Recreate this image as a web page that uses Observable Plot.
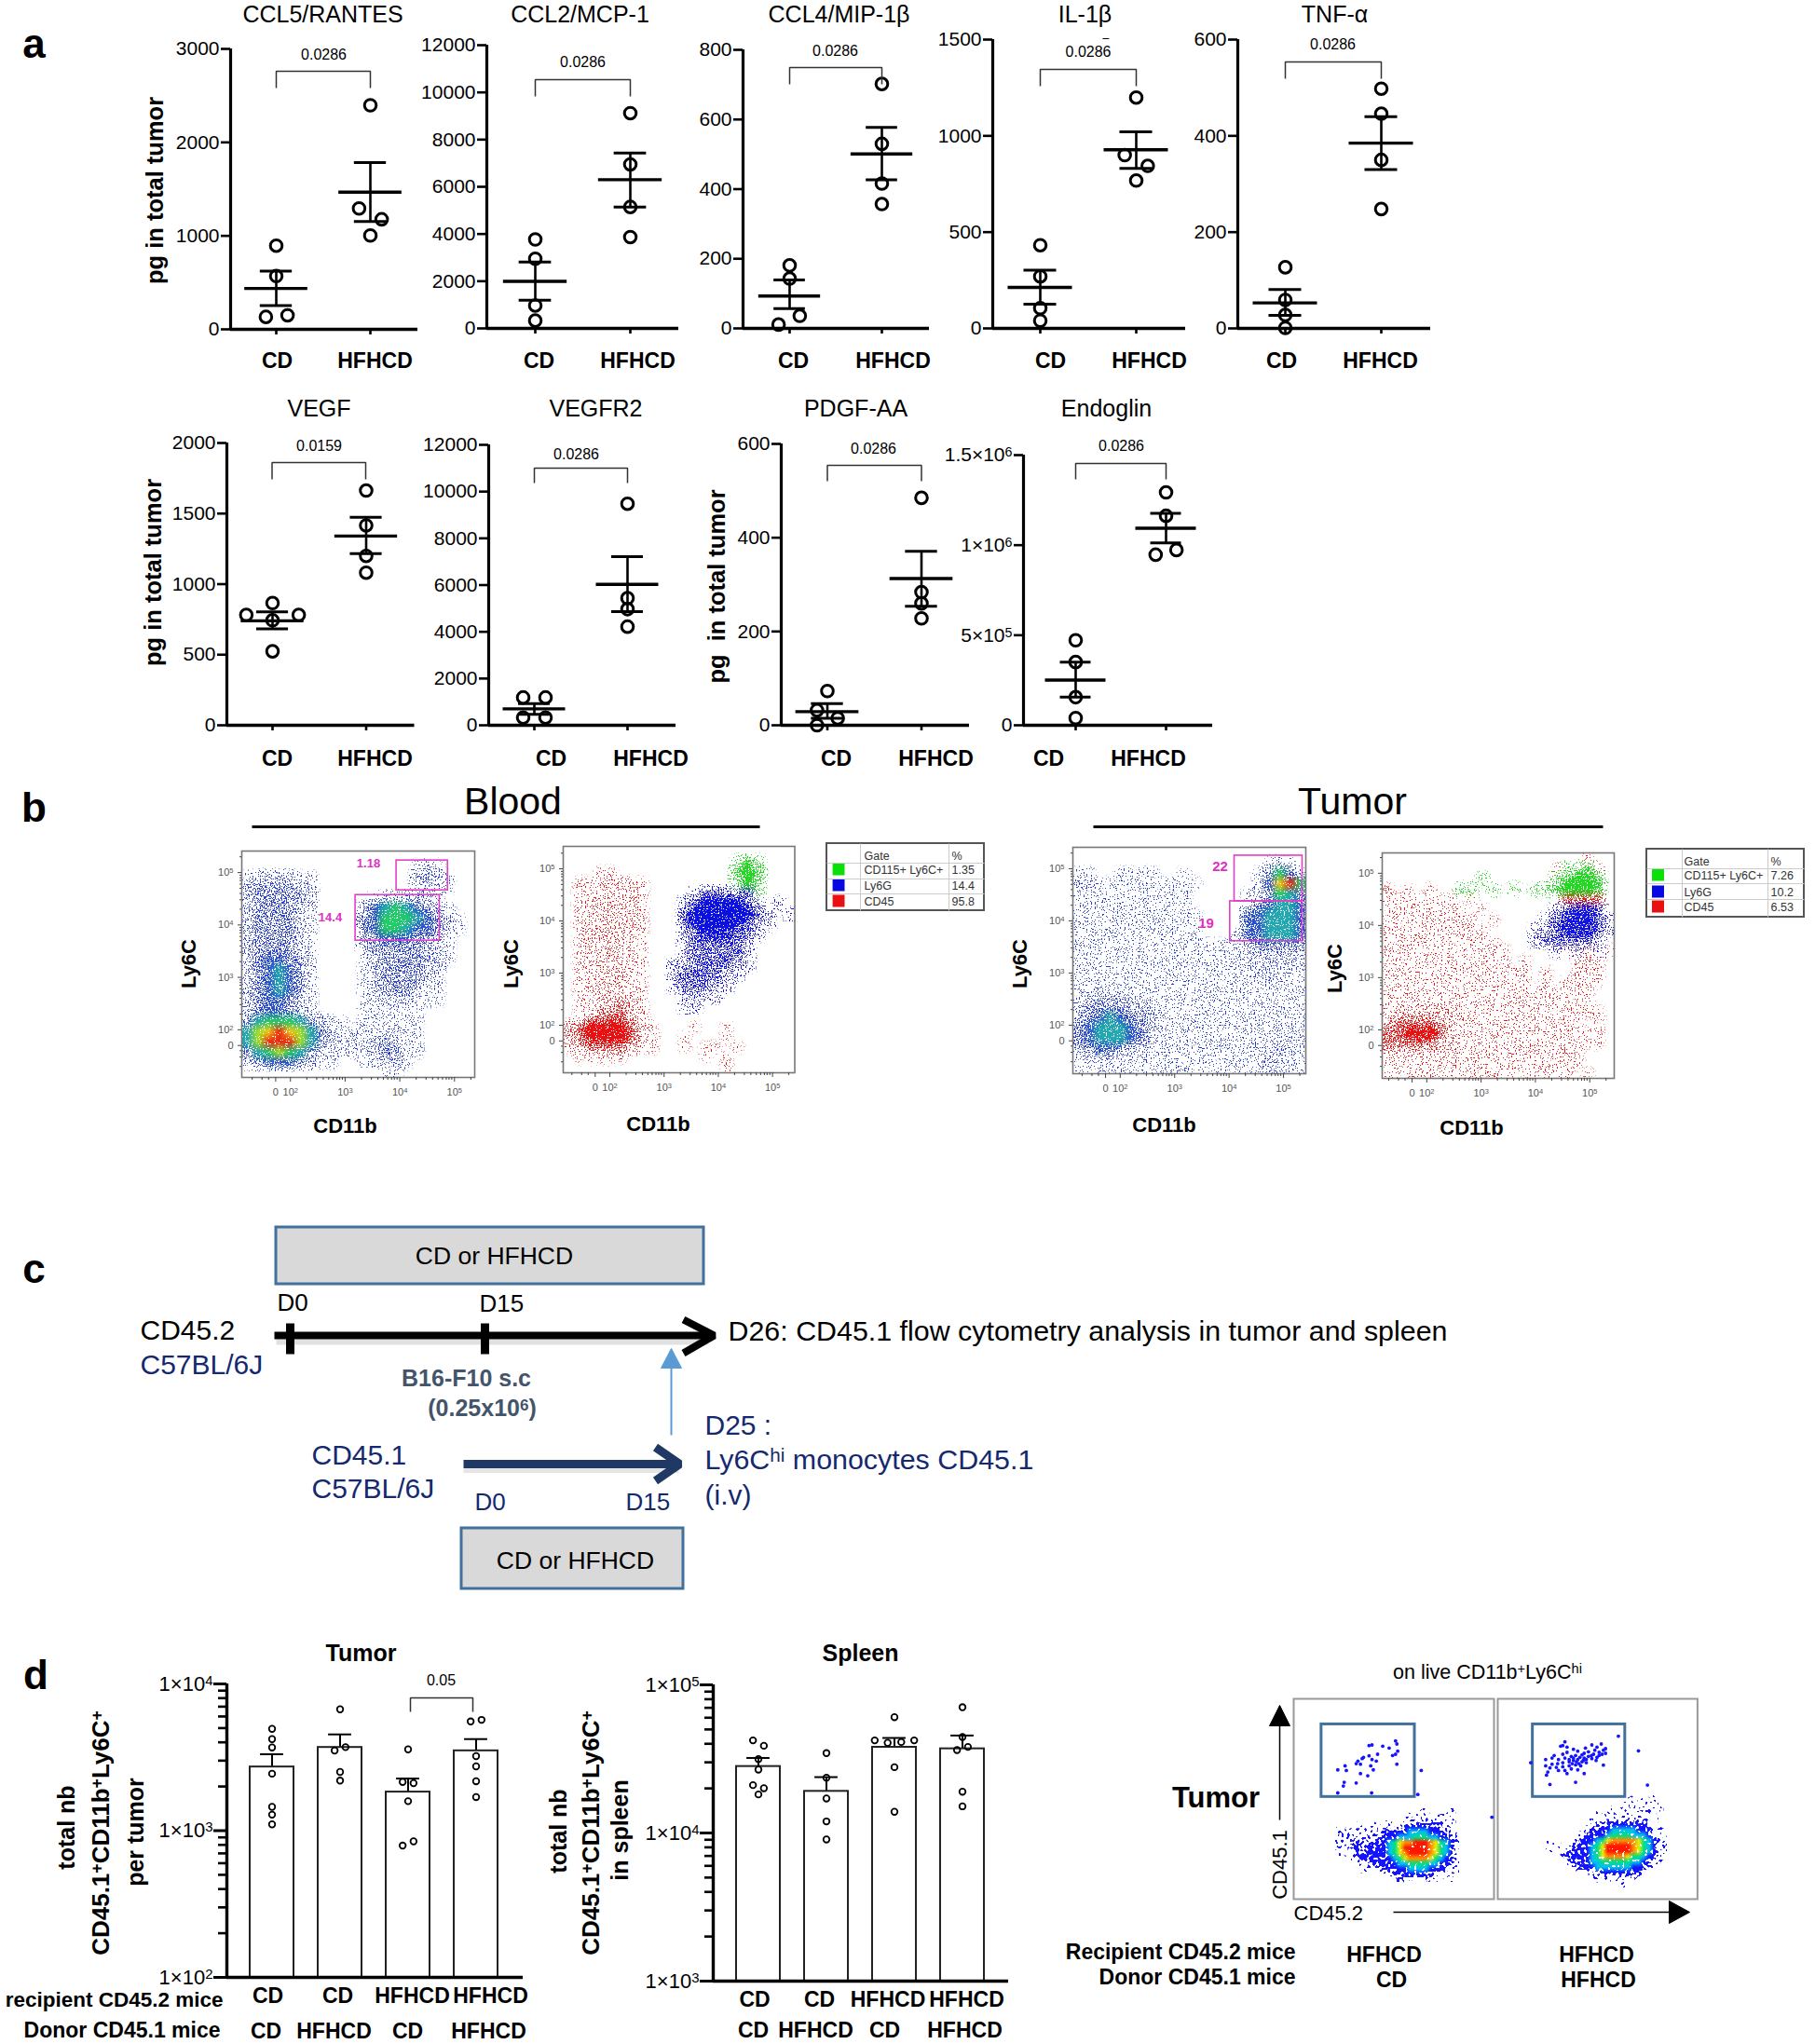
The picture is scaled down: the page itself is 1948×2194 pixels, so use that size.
<!DOCTYPE html>
<html><head><meta charset="utf-8">
<script src="https://cdn.jsdelivr.net/npm/d3@7"></script>
<script src="https://cdn.jsdelivr.net/npm/@observablehq/plot@0.6"></script>
<style>
body{margin:0;background:#fff}
#page{position:relative;width:1948px;height:2194px;overflow:hidden;background:#fff}
.panel{position:absolute}
.panel svg{overflow:visible;max-width:none}
</style></head><body><div id="page">
<svg width="0" height="0" style="position:absolute"><defs>
  <filter id="speck" x="0" y="0" width="100%" height="100%" color-interpolation-filters="sRGB">
    <feTurbulence type="fractalNoise" baseFrequency="0.75" numOctaves="2" seed="4" result="n"/>
    <feColorMatrix in="n" type="matrix" values="0 0 0 0 0 0 0 0 0 0 0 0 0 0 0 3 0 0 0 -1" result="na"/>
    <feComposite in="SourceGraphic" in2="na" operator="arithmetic" k1="0" k2="1" k3="1" k4="-1" result="sum"/>
    <feComponentTransfer in="sum" result="mask"><feFuncA type="linear" slope="14" intercept="0"/></feComponentTransfer>
    <feComponentTransfer in="SourceGraphic" result="solid"><feFuncA type="linear" slope="60" intercept="0"/></feComponentTransfer>
    <feComposite in="solid" in2="mask" operator="in" result="dots"/>
    <feGaussianBlur in="dots" stdDeviation="0.35"/>
  </filter>
  <filter id="speckCoarse" x="0" y="0" width="100%" height="100%" color-interpolation-filters="sRGB">
    <feTurbulence type="fractalNoise" baseFrequency="0.32" numOctaves="1" seed="9" result="n"/>
    <feColorMatrix in="n" type="matrix" values="0 0 0 0 0 0 0 0 0 0 0 0 0 0 0 3 0 0 0 -1" result="na"/>
    <feComposite in="SourceGraphic" in2="na" operator="arithmetic" k1="0" k2="1" k3="1" k4="-1" result="sum"/>
    <feComponentTransfer in="sum" result="mask"><feFuncA type="linear" slope="14" intercept="0"/></feComponentTransfer>
    <feComponentTransfer in="SourceGraphic" result="solid"><feFuncA type="linear" slope="60" intercept="0"/></feComponentTransfer>
    <feComposite in="solid" in2="mask" operator="in"/>
  </filter>
</defs></svg>
</div>
<script>
const FONT='"Liberation Sans",Arial,sans-serif';
/* ---------- panel a: cytokine scatter ---------- */
const aTitles=["CCL5/RANTES","CCL2/MCP-1","CCL4/MIP-1β","IL-1β","TNF-α","VEGF","VEGFR2","PDGF-AA","Endoglin"];
const aPValues=["0.0286","0.0286","0.0286","0.0286","0.0286","0.0159","0.0286","0.0286","0.0286"];
const aYMax=[3000,12000,800,1500,600,2000,12000,600,1500000];
const aYTicks=[[0,1000,2000,3000],[0,2000,4000,6000,8000,10000,12000],[0,200,400,600,800],[0,500,1000,1500],[0,200,400,600],[0,500,1000,1500,2000],[0,2000,4000,6000,8000,10000,12000],[0,200,400,600],[0,500000,1000000,1500000]];
const cdValues=[[895,570,133,150],[3770,2950,970,330],[181,143,36,11],[432,270,105,40],[127,59,28,1],[866,782,782,744,524],[1190,1190,330,330],[73,32,15,0],[472000,351000,156000,40000]];
const cdJitter=[[0,0,-.11,.12],[0,0,0,0],[0,0,.11,-.12],[0,0,0,0],[0,0,0,0],[0,-.28,.28,0,0],[-.12,.12,-.12,.12],[0,-.11,.11,-.11],[0,0,0,0]];
const hfValues=[[2397,1293,1177,1004],[9120,6950,5145,3870],[702,530,416,357],[1199,900,844,768],[498,446,350,248],[1663,1416,1200,1081],[9480,5440,4970,4220],[485,284,260,228],[1293000,1163000,947000,973000]];
const hfJitter=[[0,-.12,.12,0],[0,0,0,0],[0,0,0,0],[0,-.12,.12,0],[0,0,0,0],[0,0,0,0],[0,0,0,0],[0,0,0,0],[0,0,-.115,.115]];
const cdMeans=[437,1995,93,213,53,740,703,29,251000];
const cdLow=[255,1195,57,126,27,683,465,15,156000];
const cdHigh=[623,2810,139,302,81,804,930,46,351000];
const hfMeans=[1468,6300,501,928,385,1341,6030,313,1094000];
const hfLow=[1153,5145,427,831,330,1216,4860,254,1013000];
const hfHigh=[1783,7430,577,1021,440,1474,7220,371,1177000];
/* page geometry of the nine plots: axis x, top y, zero y, right end, CD x, HFHCD x */
const aGeom=[[247,52,353,448,296,397],[522,48,352,728,574,676],[797,53,352,997,847,946],[1065,42,352,1272,1116,1219],[1328,42,352,1535,1379,1482],[242.5,475,778,444,291.5,392],[524,477,778,725,573,673],[838,476,778,1040,887.5,988.5],[1098,488,778,1301,1154,1251]];

function place(svg,left,top,w){
  const d=document.createElement("div");d.className="panel";
  d.style.left=left+"px";d.style.top=top+"px";d.style.width=w+"px";
  d.appendChild(svg);document.getElementById("page").appendChild(d);
}
const base={background:"transparent",overflow:"visible",fontFamily:FONT};

aTitles.forEach((name,i)=>{
  const [ax,top,zero,right,cd,hf]=aGeom[i];
  const ml=130,mt=6,mb=12,mr=6;
  const u=px=>1+(px-cd)/(hf-cd);
  const pts=[...cdValues[i].map((v,k)=>({x:1+cdJitter[i][k],y:v})),...hfValues[i].map((v,k)=>({x:2+hfJitter[i][k],y:v}))];
  const stats=[{x:1,m:cdMeans[i],l:cdLow[i],h:cdHigh[i]},{x:2,m:hfMeans[i],l:hfLow[i],h:hfHigh[i]}];
  const fmt=i===8?(d=>({0:"0",500000:"5×10⁵",1000000:"1×10⁶",1500000:"1.5×10⁶"}[d])):(d=>String(d));
  const chart=Plot.plot({
    width:ml+right-ax+mr,height:mt+zero-top+mb,marginLeft:ml,marginRight:mr,marginTop:mt,marginBottom:mb,style:base,
    x:{domain:[u(ax),u(right)],axis:null},y:{domain:[0,aYMax[i]],axis:null,label:null},
    marks:[
      Plot.axisY({ticks:aYTicks[i],tickFormat:fmt,tickSize:10,tickPadding:2,strokeWidth:2.6,fontSize:21,label:null}),
      Plot.axisX({ticks:[1,2],tickFormat:()=>"",tickSize:6,strokeWidth:2.6,label:null}),
      Plot.ruleX([u(ax)],{y1:0,y2:aYMax[i],strokeWidth:3.2}),
      Plot.ruleY([0],{x1:u(ax),x2:u(right),strokeWidth:3.6}),
      Plot.ruleX(stats,{x:"x",y1:"l",y2:"h",strokeWidth:2.6}),
      Plot.ruleY(stats,{y:"m",x1:d=>d.x-.335,x2:d=>d.x+.335,strokeWidth:3.4}),
      Plot.ruleY(stats,{y:"l",x1:d=>d.x-.17,x2:d=>d.x+.17,strokeWidth:3}),
      Plot.ruleY(stats,{y:"h",x1:d=>d.x-.17,x2:d=>d.x+.17,strokeWidth:3}),
      Plot.dot(pts,{x:"x",y:"y",r:6.3,stroke:"#000",strokeWidth:3,fill:"none"})
    ]});
  place(chart,ax-ml,top-mt,ml+right-ax+mr);
});

/* ---------- panel b: flow cytometry, density ---------- */
const bloodPseudo=[
"0000000000000000000000","0000000000000000121000","1222211000000000232100","2333322000000000121100",
"2333332000001222221000","2333321000024565432100","2333321000034666543210","2333321000034665443210",
"2333321000023444332100","2333321000023333322100","2344331000012333332100","2345431000012333322000",
"2345431000012333321000","2345431000012333211000","2344321000011222111000","2344321000011111100000",
"3566653211011111100000","5789875321111221100000","5799975322222321100000","3567653211112331100000",
"2344432110011221000000","0000000000000110000000"];
const tumorPseudo=[
"0000000000000000000000","0000000000000000001210","1100111100100000013642","1111111111110000014896",
"1111111111100000113653","1111111111100000034554","1111111111110000445554","1111111111110000445554",
"1111111111110001445554","1111111111111111233333","1111111111111112222222","1111111111111111122221",
"1111111111111111122211","1111111111111111111211","1222221111111111111111","2333322211111111111111",
"2345433211111111111111","3455543211111111111211","3455543211111111111221","2344322111111111112221",
"1222111111111111112211","1111111111111111112211"];
const bloodGated=[
"......................","................xyx...","...11...........yzy...",".1122211........xzx...",
".1122221....abbbabx...",".1222221...abcdddba.a.",".1222221...bddddddba.a",".1222221...bcdddcbaa..",
".1222221...abcccbba...",".1222211...abbbbba....",".1222211...abbbbba....",".1222211..aabbbbaa....",
".1122211..abbbbaa.....",".1122211..abbbaa......",".1122221...aaaa.......",".1122321...aa.........",
".1233321..............","234444321...1..1......","234444321..1...1......","123333211..1.11.1.....",
".11111.......1.1......","...............1......"];
const tumorGated=[
"...................1..","................1xxy1.",".........x......xyzzy.","1.1.1..xx.x.x.xxyzzzy.",
"1111111.1........3333.","11111111.1......abccb.","111111111.1....abcccba","1111111111....aabcccba",
"11111111111...abbbbba.","111111111111....a1a2a1","111111111111.1....121.","11111111111111.1..121.",
"11111111111111.1.1111.","11111111111111111111..","11111111111111111111..","122222211111111111111.",
"2333322111111111111.1.","334443211111111111111.","333332211111111111111.","1222111111111111111...",
"1111111111111111111...","111111111111111111.1.."];
/* level → colour and fill density */
const pseudoColors={"0":{c:"#ffffff",a:0},"1":{c:"#2a3fd0",a:.12},"2":{c:"#2a3fd0",a:.25},"3":{c:"#2a3fd0",a:.44},"4":{c:"#2a50d0",a:.72},"5":{c:"#22a8b0",a:.92},"6":{c:"#22cc66",a:1},"7":{c:"#a0e020",a:1},"8":{c:"#f4c810",a:1},"9":{c:"#ee2a10",a:1}};
const gatedColors={".":{c:"#ffffff",a:0},"1":{c:"#e81818",a:.09},"2":{c:"#e81818",a:.2},"3":{c:"#e81818",a:.52},"4":{c:"#e81010",a:1},"a":{c:"#1818e0",a:.25},"b":{c:"#1818e0",a:.55},"c":{c:"#1414e0",a:.88},"d":{c:"#0a10e0",a:1},"x":{c:"#22d822",a:.28},"y":{c:"#22d822",a:.62},"z":{c:"#22d822",a:.98}};
const decadeLabels={1.7:"0",2:"10²",3:"10³",4:"10⁴",5:"10⁵"};
const decadeXLabels={1.73:"0",2:"10²",3:"10³",4:"10⁴",5:"10⁵"};
const flowPanels=[
 {grid:bloodPseudo,colors:pseudoColors,box:[259,913,509,1156],x:[1.11,5.37],y:[1.09,5.41],gates:[[3.94,4.66,4.88,5.23],[3.19,3.70,4.73,4.57]]},
 {grid:bloodGated,colors:gatedColors,box:[604,908,852.5,1151],x:[1.14,5.41],y:[1.09,5.43],gates:[]},
 {grid:tumorPseudo,colors:pseudoColors,box:[1151,909,1401,1152],x:[1.13,5.41],y:[1.07,5.41],gates:[[4.10,4.375,5.35,5.25],[4.02,3.61,5.35,4.375]]},
 {grid:tumorGated,colors:gatedColors,box:[1483,915,1732,1157],x:[1.18,5.45],y:[1.07,5.39],gates:[]}
];
const minorDecades=[1.3,1.48,1.6,2.3,2.48,2.6,2.7,2.78,2.85,2.9,2.95,3.3,3.48,3.6,3.7,3.78,3.85,3.9,3.95,4.3,4.48,4.6,4.7,4.78,4.85,4.9,4.95,5.3];
flowPanels.forEach(p=>{
  const [l,t,r,b]=p.box,ml=45,mt=4,mr=4,mb=34;
  const W=22,H=p.grid.length;
  const cells=p.grid.flatMap(row=>row.padEnd(W,row[0]==="0"?"0":".").slice(0,W).split("")).map(c=>p.colors[c]||{c:"#ffffff",a:0});
  const chart=Plot.plot({
    width:ml+r-l+mr,height:mt+b-t+mb,marginLeft:ml,marginRight:mr,marginTop:mt,marginBottom:mb,style:base,
    color:{type:"identity"},opacity:{type:"identity"},
    x:{domain:p.x,axis:null,label:null},y:{domain:p.y,axis:null,label:null},
    marks:[
      Plot.raster(cells,{width:W,height:H,x1:p.x[0],x2:p.x[1],y1:p.y[1],y2:p.y[0],fill:d=>d.c,fillOpacity:d=>d.a,imageRendering:"auto"}),
      Plot.rect(p.gates,{x1:d=>d[0],y1:d=>d[1],x2:d=>d[2],y2:d=>d[3],stroke:"#e040c8",strokeWidth:1.6,fill:"none"}),
      Plot.frame({stroke:"#777",strokeWidth:1.6}),
      Plot.axisX({ticks:[1.73,2,3,4,5],tickFormat:d=>decadeXLabels[d],tickSize:5,tickPadding:7,fontSize:11,stroke:"#444",color:"#555",label:null}),
      Plot.axisX({ticks:minorDecades,tickFormat:()=>"",tickSize:3,stroke:"#444",label:null}),
      Plot.axisY({ticks:[1.7,2,3,4,5],tickFormat:d=>decadeLabels[d],tickSize:4,tickPadding:5,fontSize:11,stroke:"#444",color:"#555",label:null}),
      Plot.axisY({ticks:minorDecades,tickFormat:()=>"",tickSize:2,stroke:"#444",label:null})
    ]});
  d3.select(chart).selectAll("image").attr("filter","url(#speck)");
  place(chart,l-ml,t-mt,ml+r-l+mr);
});

/* ---------- panel d: bars on log axes ---------- */
const dGroupsRecipient=["CD","CD","HFHCD","HFHCD"];
const dGroupsDonor=["CD","HFHCD","CD","HFHCD"];
const tumorBars=[2716,3690,1832,3499];
const tumorCaps=[3318,4528,2265,4207];
const tumorPoints=[[4940,4204,3690,2443,1452,1285,1104],[6714,3516,3708,2512,2193],[3581,2148,2108,1588,791,845],[5548,5689,3221,2742,2172,1694]];
const tumorOffsets=[[0,0,0,0,0,0,0],[0,-.08,.08,0,0],[0,-.08,.08,0,-.08,.08],[-.08,.08,0,0,0,0]];
const spleenBars=[28100,19100,37900,37000];
const spleenCaps=[32100,23830,43800,45500];
const spleenPoints=[[42170,38800,31550,26800,21040,20050,18200],[34600,23600,17100,11970,9040],[60500,42170,42170,40600,41100,27800,13900],[70600,44460,36300,38100,19000,15130]];
const spleenOffsets=[[-.08,.08,0,0,-.08,.08,0],[0,0,0,0,0],[0,-.29,.29,-.1,.1,0,0],[0,0,-.08,.08,0,0]];
const logTickLabel=d=>"1×10"+{100:"²",1000:"³",10000:"⁴",100000:"⁵"}[d];
function barPanel({bars,caps,points,offsets,domain,axis,top,bottom,right,first,step}){
  const ml=130,mt=6,mb=8,mr=4,lo=Math.log10(domain[0]),hi=Math.log10(domain[1]);
  const u=px=>1+(px-first)/step;
  const majors=d3.range(lo,hi+1).map(e=>10**e);
  const minors=d3.range(lo,hi).flatMap(e=>[2,3,4,5,6,7,8,9].map(m=>m*10**e));
  const rows=bars.map((v,i)=>({k:i+1,v,c:caps[i]}));
  const pts=points.flatMap((arr,i)=>arr.map((v,j)=>({x:i+1+offsets[i][j],y:v})));
  const chart=Plot.plot({
    width:ml+right-axis+mr,height:mt+bottom-top+mb,marginLeft:ml,marginRight:mr,marginTop:mt,marginBottom:mb,style:base,
    x:{domain:[u(axis),u(right)],axis:null,label:null},y:{type:"log",domain,axis:null,label:null},
    marks:[
      Plot.axisY({ticks:majors,tickFormat:logTickLabel,tickSize:14,tickPadding:1,strokeWidth:3,fontSize:22,label:null}),
      Plot.axisY({ticks:minors,tickFormat:()=>"",tickSize:9,strokeWidth:2.6,label:null}),
      Plot.ruleX(rows,{x:"k",y1:"v",y2:"c",strokeWidth:2}),
      Plot.ruleY(rows,{y:"c",x1:d=>d.k-.17,x2:d=>d.k+.17,strokeWidth:2}),
      Plot.rect(rows,{x1:d=>d.k-.322,x2:d=>d.k+.322,y1:domain[0],y2:"v",fill:"none",stroke:"#222",strokeWidth:2}),
      Plot.ruleX([u(axis)],{y1:domain[0],y2:domain[1],strokeWidth:3.4}),
      Plot.ruleY([domain[0]],{x1:u(axis),x2:u(right),strokeWidth:3.6}),
      Plot.dot(pts,{x:"x",y:"y",r:3.3,stroke:"#000",strokeWidth:1.8,fill:"none"})
    ]});
  place(chart,axis-ml,top-mt,ml+right-axis+mr);
}
barPanel({bars:tumorBars,caps:tumorCaps,points:tumorPoints,offsets:tumorOffsets,domain:[100,10000],axis:243,top:1807,bottom:2122,right:561,first:291.5,step:73});
barPanel({bars:spleenBars,caps:spleenCaps,points:spleenPoints,offsets:spleenOffsets,domain:[1000,100000],axis:765,top:1808,bottom:2126,right:1082,first:813.5,step:73});

/* ---------- panel d: CD45.2 / CD45.1 plots ---------- */
const gateEventsCD=[800,325,803,335,745,338,738,340,770,342,785,348,805,358,800,368,793,372,758,368,738,373,725,378,712,390,722,382,745,385,755,390,708,398,718,400,742,405,803,400,665,418,682,405,685,420,718,430,735,437,748,418,680,458,678,470,708,460,665,492,744,492,860,420,852,497,1025,570];
const gateEventsHF=[1320,310,1195,328,1190,340,1200,345,1185,342,1280,335,1258,338,1243,348,1270,345,1290,350,1265,355,1285,355,1275,362,1290,365,1262,368,1250,360,1240,365,1225,358,1215,352,1200,362,1190,368,1170,372,1150,385,1165,380,1180,385,1195,380,1210,375,1220,372,1230,378,1240,380,1250,375,1225,385,1215,388,1235,392,1205,392,1190,395,1178,398,1165,400,1150,405,1160,412,1175,410,1190,408,1205,405,1220,402,1232,405,1245,395,1268,388,1285,403,1180,420,1195,420,1210,415,1225,418,1240,430,1155,425,1152,435,1200,430,1160,465,1220,458,1115,395,1367,357,1388,467,1257,372,1270,378,1245,385,1235,370,1215,380,1222,392,1212,398,1228,398,1238,388,1258,382,1275,372,1282,368,1205,385];
const cloudCD=[
"................1.....1.","..............11.1..11..","..........1...1111111.1.","....1..1.11..222222211..",
"1.1.11.1.2222233332222..","1111.1111222333444332211","1.1121122234566777654321","1.122122223457777765432.",
"1.1.22222234567777654321","...12222222345666654322.","....1.122222334444332211",".....1..1222223333222111",
"...........222222221.1..","............2.1.11.1..1."];
const cloudHF=[
"................1..1.1..","...............1.1.1.1..","............1..11.1.1.1.","..........1.1.1.1.1.1...",
".........1..11.11111.1..","..........11222222221...","........1222233333222.1.",".......12222344443332...",
"1.....122234566666543221","1.1..12223457777765432.1",".1.1122223457777765432.1","...12222234566665443221.",
".....2222334444443322.1.","......122233333332221...",".........1122222222.....","..........1.1.1.1.1.....",
"...............1........","........................"];
const cloudColors={".":{c:"#1414ff",a:0},"1":{c:"#1414ff",a:.3},"2":{c:"#1414ff",a:.8},"3":{c:"#00c0f0",a:1},"4":{c:"#00e080",a:1},"5":{c:"#e8f000",a:1},"6":{c:"#ff8c00",a:1},"7":{c:"#ff1800",a:1}};
const pairs=a=>d3.range(0,a.length,2).map(i=>({x:a[i],y:a[i+1]}));
[
 {box:[1388,1823,1603,2038],x:[562,1030],events:gateEventsCD,cloud:cloudCD,origin:[660,540],gate:[627,505,845,272]},
 {box:[1606.6,1823,1821,2038],x:[1038,1505],events:gateEventsHF,cloud:cloudHF,origin:[1145,500],gate:[1120,505,1336,272]}
].forEach(p=>{
  const [l,t,r,b]=p.box;
  const H=p.cloud.length;
  const cells=p.cloud.flatMap(row=>row.split("")).map(c=>cloudColors[c]);
  const chart=Plot.plot({
    width:r-l,height:b-t,margin:0,style:base,color:{type:"identity"},opacity:{type:"identity"},
    x:{domain:p.x,axis:null,label:null},y:{domain:[833,190],axis:null,label:null},
    marks:[
      Plot.raster(cells,{width:24,height:H,x1:p.origin[0],x2:p.origin[0]+24*12,y1:p.origin[1],y2:p.origin[1]+H*17,fill:d=>d.c,fillOpacity:d=>d.a,imageRendering:"auto"}),
      Plot.frame({stroke:"#999",strokeWidth:2}),
      Plot.rect([p.gate],{x1:d=>d[0],y1:d=>d[1],x2:d=>d[2],y2:d=>d[3],stroke:"#41719c",strokeWidth:3,fill:"none"}),
      Plot.dot(pairs(p.events),{x:"x",y:"y",r:1.9,fill:"#1414ff"})
    ]});
  d3.select(chart).selectAll("image").attr("filter","url(#speckCoarse)");
  place(chart,l,t,r-l);
});

/* ---------- page overlay: panel letters, labels, brackets, schematic c, gate tables ---------- */
const gateNames=["CD115+ Ly6C+","Ly6G","CD45"];
const gateSwatches=["#08e008","#0808e0","#e81010"];
const gatePctBlood=["1.35","14.4","95.8"];
const gatePctTumor=["7.26","10.2","6.53"];
const texts=[],lines=[],rects=[];
const T=(s,x,y,fs,o={})=>texts.push({s,x,y,fs,fw:o.fw||"normal",a:o.a||"middle",c:o.c||"#000",rot:o.r||0});
const B=(s,x,b,fs,o={})=>T(s,x,b-.32*fs,fs,o);
const L=(pts,o={})=>lines.push({pts,stroke:o.stroke||"#000",w:o.w||1.5,fill:o.fill||"none",op:o.op||1});
const R=(x1,y1,x2,y2,o={})=>rects.push({x1,y1,x2,y2,fill:o.fill||"none",stroke:o.stroke||"none",w:o.w||0});
const bold={fw:"bold"};
/* letters */
[["a",36,61],["b",36,881],["c",36,1376],["d",38,1812]].forEach(([s,x,b])=>B(s,x,b,44,bold));
/* panel a text */
const titleX=[346,622,900,1164,1432,342,639,918,1187];
const titleB=[23,23,23,23,23,446,446,446,446];
const pX=[347,625,896,1167.5,1430,342,618,937,1203];
const pY=[58,66,54,55,47,478,487,481,478];
const brTop=[76,85,72,74,66,496,502,499,497];
const brBot=[94,103,90,92,84,514,518,516,514];
const cdLabel=[297,578,851,1127,1375,297,591,897,1125];
const hfLabel=[402,684,958,1233,1481,402,698,1004,1232];
aTitles.forEach((n,i)=>{
  B(n,titleX[i],titleB[i],25);
  T(aPValues[i],pX[i],pY[i],16);
  const cd=aGeom[i][4],hf=aGeom[i][5];
  L([[cd,brBot[i]],[cd,brTop[i]],[hf,brTop[i]],[hf,brBot[i]]],{stroke:"#333"});
  const b=i<5?394:821;
  B("CD",cdLabel[i],b,23,bold);B("HFHCD",hfLabel[i],b,23,bold);
});
T("−",1186,41,14);
T("pg in total tumor",166,204,25.5,{fw:"bold",r:-90});
T("pg in total tumor",164,614,25.5,{fw:"bold",r:-90});
T("pg  in total tumor",769,629,25.5,{fw:"bold",r:-90});
/* panel b text */
B("Blood",550,873,41);L([[270,887],[815,887]],{w:3.2});
B("Tumor",1451,873,41);L([[1173,887],[1720,887]],{w:3.2});
[[202,1034,370,1215],[548.5,1034,706,1213],[1094,1034,1249,1214],[1432,1039,1579,1217]].forEach(([a,b,c,d])=>{T("Ly6C",a,b,22,{fw:"bold",r:-90});B("CD11b",c,d,22,bold);});
const mag={fw:"bold",c:"#e030c0"};
T("1.18",395,926,13,mag);T("14.4",354,984,13,mag);T("22",1309,930,15,mag);T("19",1294,991,15,mag);
function gateTable(x1,y1,x2,y2,sx1,sx2,tx,pctx,vx1,vx2,hy,rowsY,seps,pct){
  R(x1,y1,x2,y2,{stroke:"#555",w:2,fill:"#fff"});
  [vx1,vx2].forEach(v=>L([[v,y1],[v,y2]],{stroke:"#ccc",w:1}));
  seps.forEach(v=>L([[x1,v],[x2,v]],{stroke:"#ccc",w:1}));
  T("Gate",tx,hy,12.5,{a:"start",c:"#333"});T("%",pctx,hy,12.5,{a:"start",c:"#333"});
  rowsY.forEach((y,i)=>{
    R(sx1,y-6.5,sx2,y+6.5,{fill:gateSwatches[i]});
    T(gateNames[i],tx,y,12.5,{a:"start",c:"#333"});T(pct[i],pctx,y,12.5,{a:"start",c:"#333"});
  });
}
gateTable(887,905,1056,977,893.6,906.5,927,1021,923,1018,918,[933,950,967],[926,943,959],gatePctBlood);
gateTable(1767,911,1936,984,1773,1786,1807,1900,1805,1897,924,[939,957,973],[932,948,965],gatePctTumor);
/* panel c schematic */
const navy="#14296e",deep="#1f3864",boxFill="#d9d9d9",boxLine="#41719c";
R(296,1317,755,1378,{fill:boxFill,stroke:boxLine,w:3});
R(495,1640,733,1705,{fill:boxFill,stroke:boxLine,w:3});
T("CD or HFHCD",530,1348,26.5);T("CD or HFHCD",617,1675,26.5);
T("D0",297,1398,26,{a:"start"});T("D15",514,1399,26,{a:"start"});
T("CD45.2",150,1428,30,{a:"start"});T("C57BL/6J",150,1465,30,{a:"start",c:navy});
L([[296,1440],[760,1440]],{stroke:"#000",w:6,op:.12});
L([[294,1433],[765,1433]],{w:8});
L([[733,1416],[766,1433],[733,1452]],{w:8});
L([[311,1420],[311,1453]],{w:9});L([[520,1420],[520,1453]],{w:9});
T("D26: CD45.1 flow cytometry analysis in tumor and spleen",781,1429,30.4,{a:"start"});
L([[720,1540],[720,1468]],{stroke:"#5b9bd5",w:2});
L([[709,1468],[720,1447],[731,1468],[709,1468]],{stroke:"#5b9bd5",fill:"#5b9bd5",w:1});
T("B16-F10 s.c",500,1479,25,{fw:"bold",c:"#44546a"});T("(0.25x10⁶)",517,1511,25,{fw:"bold",c:"#44546a"});
T("D25 :",756,1530,30,{a:"start",c:navy});T("Ly6Cʰⁱ monocytes CD45.1",756,1567,30.4,{a:"start",c:navy});T("(i.v)",756,1605,30,{a:"start",c:navy});
T("CD45.1",334,1562,30,{a:"start",c:navy});T("C57BL/6J",334,1598,30,{a:"start",c:navy});
L([[497,1577],[728,1577]],{stroke:"#000",w:7,op:.1});
L([[497,1571],[728,1571]],{stroke:deep,w:9});
L([[703,1553],[729,1571],[703,1589]],{stroke:deep,w:9});
T("D0",509,1612,26,{a:"start",c:navy});T("D15",671,1612,26,{a:"start",c:navy});
/* panel d labels */
B("Tumor",387,1782,25,bold);B("Spleen",923,1782,25,bold);
L([[440,1837],[440,1822],[507,1822],[507,1837]],{stroke:"#333"});T("0.05",473,1803,16);
T("total nb",71.5,1961,25,{fw:"bold",r:-90});T("CD45.1⁺CD11b⁺Ly6C⁺",108,1967,26,{fw:"bold",r:-90});T("per tumor",145,1966,25,{fw:"bold",r:-90});
T("total nb",599,1965,25,{fw:"bold",r:-90});T("CD45.1⁺CD11b⁺Ly6C⁺",634,1967,26,{fw:"bold",r:-90});T("in spleen",665.6,1964,25,{fw:"bold",r:-90});
B("recipient CD45.2 mice",239,2153,22.5,{fw:"bold",a:"end"});B("Donor CD45.1 mice",236,2186,23,{fw:"bold",a:"end"});
[287,362,442,526].forEach((x,i)=>B(dGroupsRecipient[i],x,2149,23,bold));
[285,358,437,524].forEach((x,i)=>B(dGroupsDonor[i],x,2187,23,bold));
[809.6,879,952.5,1037].forEach((x,i)=>B(dGroupsRecipient[i],x,2153,23,bold));
[808,875,949,1035].forEach((x,i)=>B(dGroupsDonor[i],x,2186,23,bold));
B("on live CD11b⁺Ly6Cʰⁱ",1596,1801,21.5);
B("Tumor",1304.5,1939,31,bold);
L([[1373,1953],[1373,1850]]);
L([[1362,1852],[1373,1830],[1384,1852],[1362,1852]],{fill:"#000",w:1});
T("CD45.1",1373,2001,22,{r:-90});T("CD45.2",1388,2053,22,{a:"start"});
L([[1495,2052],[1792,2052]]);
L([[1791,2040],[1813,2052],[1791,2064],[1791,2040]],{fill:"#000",w:1});
B("Recipient CD45.2 mice",1390,2102,23,{fw:"bold",a:"end"});B("Donor CD45.1 mice",1390,2129,23,{fw:"bold",a:"end"});
B("HFHCD",1485,2105,23,bold);B("CD",1493,2132,23,bold);B("HFHCD",1713,2105,23,bold);B("HFHCD",1715,2132,23,bold);

const lineMarks=lines.map(l=>Plot.line(l.pts,{x:d=>d[0],y:d=>d[1],stroke:l.stroke,strokeWidth:l.w,fill:l.fill,strokeOpacity:l.op,strokeLinejoin:"miter",strokeLinecap:"butt",curve:"linear"}));
const rectMarks=rects.map(r=>Plot.rect([r],{x1:"x1",y1:"y1",x2:"x2",y2:"y2",fill:r.fill,stroke:r.stroke,strokeWidth:r.w}));
const textMarks=d3.groups(texts,d=>d.fw+"|"+d.a+"|"+d.c).map(([k,g])=>Plot.text(g,{x:"x",y:"y",text:"s",fontSize:d=>d.fs,rotate:"rot",fontWeight:g[0].fw,textAnchor:g[0].a,fill:g[0].c}));
const overlay=Plot.plot({width:1948,height:2194,margin:0,style:base,
  x:{type:"identity",axis:null},y:{type:"identity",axis:null},
  marks:[...rectMarks,...lineMarks,...textMarks]});
place(overlay,0,0,1948);

/* real superscripts: set the Unicode superscript letters as raised tspans */
const supMap={"⁺":"+","²":"2","³":"3","⁴":"4","⁵":"5","⁶":"6","ʰ":"h","ⁱ":"i"};
const supRe=/([⁺²³⁴⁵⁶ʰⁱ]+)/;
d3.selectAll("#page text, #page tspan").each(function(){
  if(this.children.length||!supRe.test(this.textContent))return;
  const parts=this.textContent.split(supRe);
  this.textContent="";
  parts.forEach((s,i)=>{
    if(!s)return;
    const t=document.createElementNS("http://www.w3.org/2000/svg","tspan");
    if(i%2){t.textContent=[...s].map(c=>supMap[c]).join("");t.setAttribute("style","baseline-shift:38%;font-size:68%");}
    else t.textContent=s;
    this.appendChild(t);
  });
});
</script></body></html>
